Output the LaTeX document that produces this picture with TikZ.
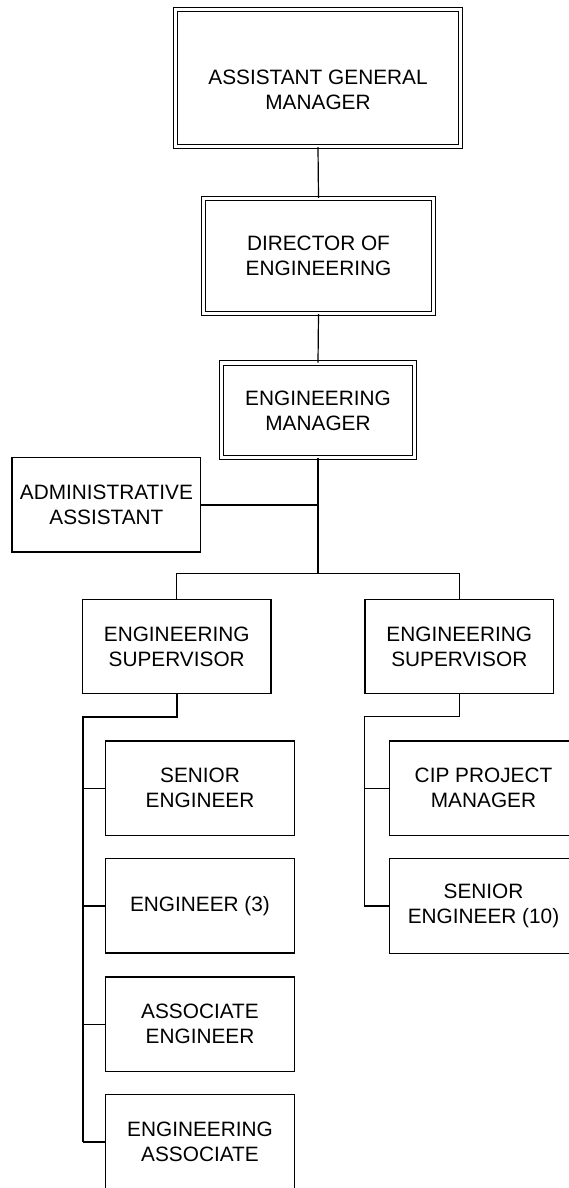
\documentclass[tikz,border=0pt]{standalone}
\usepackage{fontspec}
\setmainfont{Liberation Sans}
\usetikzlibrary{calc}
\begin{document}
\begin{tikzpicture}[x=1pt,y=-1pt,
  ln/.style={line width=1.2pt,black},
  sbox/.style={draw,line width=1.2pt,inner sep=0pt,minimum width=188.7pt,minimum height=94.3pt,align=center,font=\fontsize{20.8}{25}\selectfont},
  dbox/.style={draw,line width=1.1pt,double,double distance=3.6pt,inner sep=0pt,align=center,font=\fontsize{20.8}{25}\selectfont},
  lbl/.style={inner sep=0pt,align=center,font=\fontsize{20.8}{25}\selectfont}]
\useasboundingbox[fill=white] (0,0) rectangle (569,1188);
% top chain
\node[dbox,minimum width=285pt,minimum height=137pt] (agm) at (318,78) {};
\node[lbl] (agmt) at (318,90) {ASSISTANT GENERAL\\MANAGER};
\node[dbox,minimum width=230pt,minimum height=115pt] (dir) at (318.5,256) {DIRECTOR OF\\ENGINEERING};
\node[dbox,minimum width=193pt,minimum height=94.3pt] (em) at (318,410.4) {ENGINEERING\\MANAGER};
\node[sbox] (adm) at (106.4,504.9) {ADMINISTRATIVE\\ASSISTANT};
% supervisors
\node[sbox] (supl) at (176.7,646.5) {ENGINEERING\\SUPERVISOR};
\node[sbox] (supr) at (459.3,646.5) {ENGINEERING\\SUPERVISOR};
% left team
\node[sbox] (se) at (200,788.2) {SENIOR\\ENGINEER};
\node[sbox] (e3) at (200,905.9) {ENGINEER (3)};
\node[sbox] (ae) at (200,1024.2) {ASSOCIATE\\ENGINEER};
\node[sbox] (ea) at (200,1142) {ENGINEERING\\ASSOCIATE};
% right team
\node[sbox] (cip) at (483.5,788.2) {CIP PROJECT\\MANAGER};
\node[sbox] (se10) at (483.5,906) {SENIOR\\ENGINEER (10)};
% coordinates
\coordinate (mainj) at (318,573.7);
\coordinate (lbus) at (82.7,716.7);
\coordinate (rbus) at (364.3,716.7);
% connectors
\draw[ln] (agm.south) -- (dir.north);
\draw[ln] (dir.south) -- (em.north);
\draw[ln] (em.south) -- (mainj);
\draw[ln] (adm.east) -- (adm.east -| mainj);
\draw[ln] (supl.north) -- (supl.north |- mainj) -- (supr.north |- mainj) -- (supr.north);
% left bus
\draw[ln,line width=2pt] (supl.south) -- (supl.south |- lbus) -- (lbus) -- (lbus |- ea.west);
\draw[ln] (lbus |- se.west) -- (se.west);
\draw[ln] (lbus |- e3.west) -- (e3.west);
\draw[ln] (lbus |- ae.west) -- (ae.west);
\draw[ln] (lbus |- ea.west) -- (ea.west);
% right bus
\draw[ln,line width=1.4pt] (supr.south) -- (supr.south |- rbus) -- (rbus) -- (rbus |- se10.west);
\draw[ln] (rbus |- cip.west) -- (cip.west);
\draw[ln] (rbus |- se10.west) -- (se10.west);
\end{tikzpicture}
\end{document}
